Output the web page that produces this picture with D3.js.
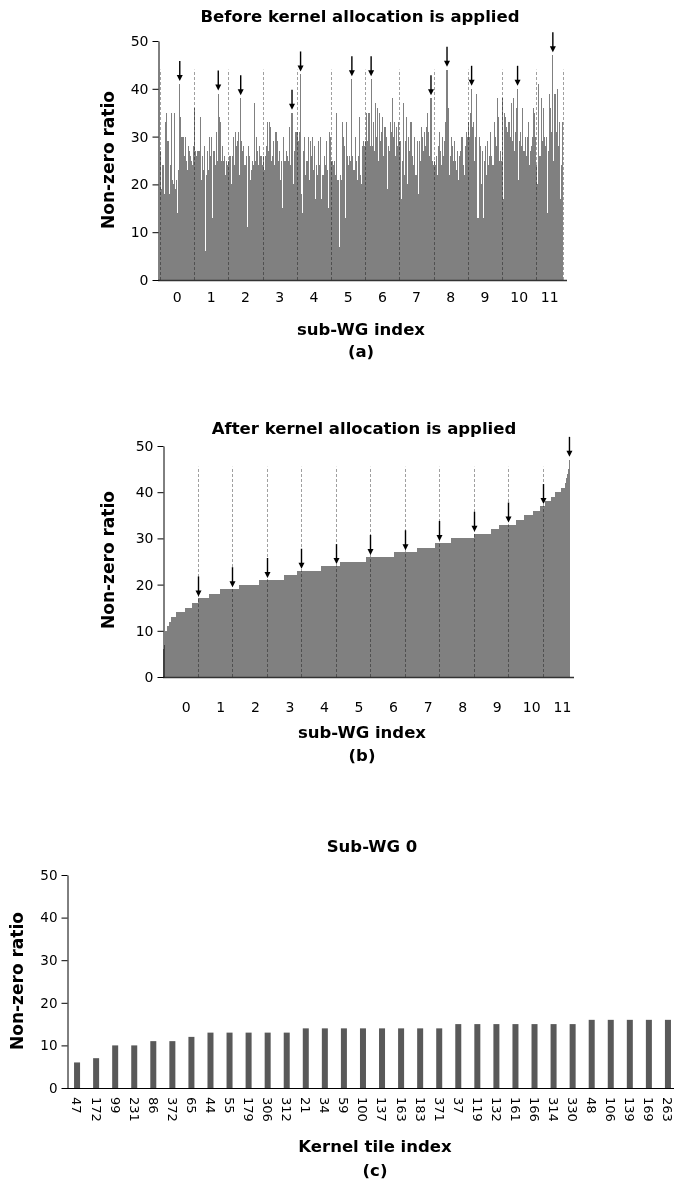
<!DOCTYPE html>
<html>
<head>
<meta charset="utf-8">
<script src="https://cdn.jsdelivr.net/npm/d3@7"></script>
<style>
  body { margin: 0; background: #fff; }
  text { font-family: "DejaVu Sans", Verdana, sans-serif; fill: #000; }
</style>
</head>
<body>
<div id="my_dataviz"></div>
<script>
// ---- data ----
var groupLabels = ["0","1","2","3","4","5","6","7","8","9","10","11"];

// (a) non-zero ratio per kernel tile, in original order, one array per sub-WG
var beforeGroups = [
  [27,19,24,24,18,33,35,29,18,24,35,21,20,35,19,21,14,23,41,34,30,30,26,30,25,23,28,27,26,25,24,28],
  [36,27,26,27,27,34,21,26,23,28,6,22,27,23,30,26,30,13,27,24,31,25,39,34,33,25,28,25,26,22,25,24],
  [25,26,20,26,30,24,31,28,29,31,22,38,29,27,28,24,26,11,28,26,21,23,25,24,37,25,30,27,24,28,26,24],
  [26,23,26,28,33,27,33,32,25,26,29,24,31,29,25,27,21,25,15,30,25,25,27,26,25,32,24,35,20,27,31,31],
  [31,29,31,43,18,14,27,30,22,25,30,21,29,26,30,23,28,17,24,22,29,24,30,17,22,26,24,29,23,15,31,30],
  [25,25,24,25,22,35,21,7,22,21,33,30,28,13,33,26,24,26,25,42,26,23,30,25,21,26,34,22,20,28,29,28],
  [29,35,29,35,28,42,28,33,27,37,30,36,25,35,29,31,34,26,32,30,19,28,27,33,31,38,30,33,26,32,28,33],
  [29,17,25,37,22,29,34,20,30,27,33,33,26,24,30,22,29,18,29,25,32,30,27,31,28,32,35,31,26,38,25,24],
  [25,24,26,22,28,31,27,24,30,26,29,33,44,36,22,26,30,28,25,29,25,23,27,21,26,27,30,24,22,28,31,30],
  [33,30,35,40,32,33,25,30,39,13,30,28,20,27,13,25,28,22,29,24,26,31,26,24,33,30,28,38,34,25,27,25],
  [38,17,35,34,32,31,33,30,37,29,38,27,31,36,40,21,29,31,28,36,27,30,26,30,33,24,27,28,30,36,35,30],
  [24,20,41,26,38,29,36,30,28,30,14,27,39,36,31,47,25,39,31,40,28,33,17,24,33]
];

// (b) sorted values, as levels and how many tiles sit at each level
var afterLevels = [6,7,10,11,12,13,14,15,16,17,18,19,20,21,22,23,24,25,26,27,28,29,30,31,32,33,34,35,36,37,38,39,40,41,42,43,44,45,47];
var afterCounts = [1,1,2,2,1,5,8,7,5,11,10,17,19,23,12,22,18,24,26,21,17,15,21,16,7,16,7,9,6,5,5,4,6,3,1,1,1,1,1];

// (c) sub-WG 0 tiles
var tileLabels = ["47","172","99","231","86","372","65","44","55","179","306","312","21","34","59","100","137","163","183","371","37","119","132","161","166","314","330","48","106","139","169","263"];
var tileValues = [6,7,10,10,11,11,12,13,13,13,13,13,14,14,14,14,14,14,14,14,15,15,15,15,15,15,15,16,16,16,16,16];

var yTicks = [0,10,20,30,40,50];

// ---- build flat series ----
var before = [], groupStart = [], pos = 0;
beforeGroups.forEach(function(g) { groupStart.push(pos); g.forEach(function(v) { before.push(v); }); pos += g.length; });
var total = before.length;
var after = [];
afterLevels.forEach(function(v, k) { for (var j = 0; j < afterCounts[k]; j++) after.push(v); });

var W = 674, H = 1187;
var svg = d3.select("#my_dataviz").append("svg")
  .attr("width", W).attr("height", H);
svg.append("rect").attr("width", W).attr("height", H).attr("fill", "#fff");

function drawYAxis(g, y, ax, fs) {
  var a = g.append("g")
    .attr("transform", "translate(" + ax + ",0)")
    .call(d3.axisLeft(y).tickValues(yTicks).tickSize(6).tickSizeOuter(0).tickPadding(4));
  a.select(".domain").attr("stroke", "#000");
  a.selectAll(".tick line").attr("stroke", "#000");
  a.selectAll(".tick text").style("font-size", fs + "px").attr("fill", "#000");
}

function arrow(g, cx, tipY) {
  g.append("line")
    .attr("x1", cx).attr("x2", cx)
    .attr("y1", tipY - 20).attr("y2", tipY - 5)
    .attr("stroke", "#000").attr("stroke-width", 1.4);
  g.append("path")
    .attr("d", "M" + (cx - 3) + "," + (tipY - 6) + "L" + (cx + 3) + "," + (tipY - 6) + "L" + cx + "," + tipY + "Z")
    .attr("fill", "#000");
}

function separator(g, xp, y0, y1) {
  g.append("line")
    .attr("x1", xp).attr("x2", xp)
    .attr("y1", y0).attr("y2", y1)
    .attr("stroke", "#a0a0a0").attr("stroke-width", 1)
    .attr("stroke-dasharray", "3,2")
    .style("mix-blend-mode", "multiply");
}

function labels(g, cx, ylab, yTitle, yX, yXl, yTag, title, xTitle, tag) {
  g.append("text").attr("x", cx).attr("y", yTitle).attr("text-anchor", "middle")
    .style("font-size", "16.5px").style("font-weight", "bold").text(title);
  g.append("text").attr("transform", "translate(" + ylab[0] + "," + ylab[1] + ") rotate(-90)")
    .attr("dy", "0.35em").attr("text-anchor", "middle")
    .style("font-size", "17px").style("font-weight", "bold").text("Non-zero ratio");
  g.append("text").attr("x", yXl).attr("y", yX).attr("text-anchor", "middle")
    .style("font-size", "16.5px").style("font-weight", "bold").text(xTitle);
  g.append("text").attr("x", yXl).attr("y", yTag).attr("text-anchor", "middle")
    .style("font-size", "16.5px").style("font-weight", "bold").text(tag);
}

// ---- panel (a) ----
var ga = svg.append("g");
var xa = d3.scaleLinear().domain([0, total]).range([160, 563]);
var ya = d3.scaleLinear().domain([0, 50]).range([280, 41]);

ga.selectAll("rect.bar").data(before).enter().append("rect")
  .attr("class", "bar")
  .attr("x", function(d, i) { return xa(i); })
  .attr("width", function(d, i) { return xa(i + 1) - xa(i); })
  .attr("y", function(d) { return ya(d); })
  .attr("height", function(d) { return ya(0) - ya(d); })
  .attr("fill", "#808080")
  .attr("shape-rendering", "crispEdges");

groupStart.concat([total]).forEach(function(s) {
  separator(ga, Math.round(xa(s)) + 0.5, ya(0), ya(44));
});

beforeGroups.forEach(function(g, k) {
  var m = d3.maxIndex(g);
  arrow(ga, xa(groupStart[k] + m + 0.5), ya(g[m]) - 3);
  ga.append("text")
    .attr("x", xa(groupStart[k] + g.length / 2)).attr("y", 302)
    .attr("text-anchor", "middle").style("font-size", "14px")
    .text(groupLabels[k]);
});

ga.append("line").attr("x1", 158).attr("x2", 567).attr("y1", ya(0) + 0.5).attr("y2", ya(0) + 0.5)
  .attr("stroke", "#333").attr("stroke-width", 1.5);
drawYAxis(ga, ya, 158.5, 14);
labels(ga, 360, [108, 160], 22, 335, 361, 357,
  "Before kernel allocation is applied", "sub-WG index", "(a)");

// ---- panel (b) ----
var gb = svg.append("g");
var xb = d3.scaleLinear().domain([0, total]).range([163, 570]);
var yb = d3.scaleLinear().domain([0, 50]).range([677, 446]);

gb.selectAll("rect.bar").data(after).enter().append("rect")
  .attr("class", "bar")
  .attr("x", function(d, i) { return xb(i); })
  .attr("width", function(d, i) { return xb(i + 1) - xb(i); })
  .attr("y", function(d) { return yb(d); })
  .attr("height", function(d) { return yb(0) - yb(d); })
  .attr("fill", "#808080")
  .attr("shape-rendering", "crispEdges");

groupStart.slice(1).forEach(function(s) {
  separator(gb, Math.round(xb(s)) + 0.5, yb(0), yb(45.5));
  arrow(gb, Math.round(xb(s)) + 0.5, yb(after[s]) - 2);
});
arrow(gb, xb(total - 0.5), yb(after[total - 1]) - 3);

beforeGroups.forEach(function(g, k) {
  gb.append("text")
    .attr("x", xb(groupStart[k] + g.length / 2) + 6).attr("y", 712)
    .attr("text-anchor", "middle").style("font-size", "14px")
    .text(groupLabels[k]);
});

gb.append("line").attr("x1", 163).attr("x2", 574).attr("y1", yb(0) + 0.5).attr("y2", yb(0) + 0.5)
  .attr("stroke", "#333").attr("stroke-width", 1.5);
drawYAxis(gb, yb, 163.5, 14);
labels(gb, 364, [108, 560], 434, 738, 362, 761,
  "After kernel allocation is applied", "sub-WG index", "(b)");

// ---- panel (c) ----
var gc = svg.append("g");
var xc = d3.scaleBand().domain(tileLabels).range([67, 678]).paddingInner(0.685).paddingOuter(0.37);
var yc = d3.scaleLinear().domain([0, 50]).range([1088, 875]);

gc.selectAll("rect.bar").data(tileValues).enter().append("rect")
  .attr("class", "bar")
  .attr("x", function(d, i) { return xc(tileLabels[i]); })
  .attr("width", xc.bandwidth())
  .attr("y", function(d) { return yc(d); })
  .attr("height", function(d) { return yc(0) - yc(d); })
  .attr("fill", "#595959");

gc.selectAll("text.tile").data(tileLabels).enter().append("text")
  .attr("class", "tile")
  .attr("transform", function(d) { return "translate(" + (xc(d) + xc.bandwidth() / 2) + ",1097) rotate(90)"; })
  .attr("dy", "0.35em").attr("text-anchor", "start")
  .style("font-size", "13px")
  .text(function(d) { return d; });

gc.append("line").attr("x1", 67).attr("x2", 674).attr("y1", yc(0) + 0.5).attr("y2", yc(0) + 0.5)
  .attr("stroke", "#000").attr("stroke-width", 1);
drawYAxis(gc, yc, 67.5, 13.5);
labels(gc, 372, [17, 981], 852, 1152, 375, 1176,
  "Sub-WG 0", "Kernel tile index", "(c)");
</script>
</body>
</html>
